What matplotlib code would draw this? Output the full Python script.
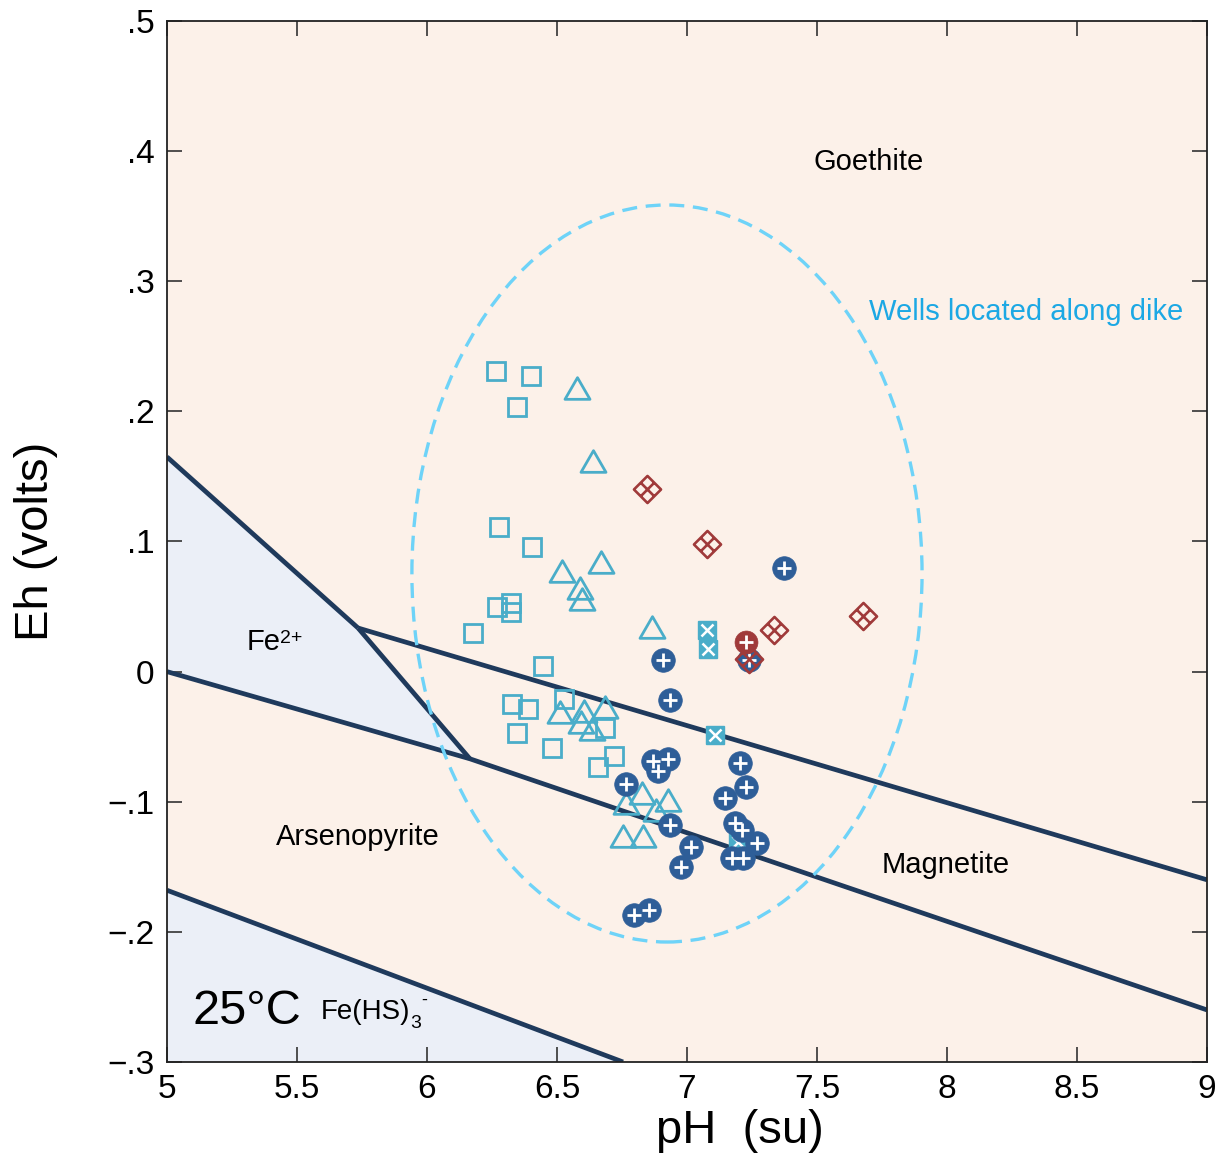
import numpy as np
import matplotlib
matplotlib.use("Agg")
import matplotlib.pyplot as plt
from matplotlib.path import Path
from matplotlib.patches import Ellipse, Polygon

plt.rcParams["font.family"] = ["Liberation Sans", "DejaVu Sans"]
plt.rcParams["mathtext.fontset"] = "custom"
plt.rcParams["mathtext.rm"] = "Liberation Sans"
plt.rcParams["mathtext.it"] = "Liberation Sans:italic"

# ---- stability-field boundaries (pH, Eh in volts) ----
goethite_magnetite_ph = [5.735, 9.0]
goethite_magnetite_eh = [0.0335, -0.160]
fe2_goethite_ph = [5.0, 5.735]
fe2_goethite_eh = [0.165, 0.0335]
fe2_magnetite_ph = [5.735, 6.165]
fe2_magnetite_eh = [0.0335, -0.067]
arsenopyrite_top_ph = [5.0, 6.165, 9.0]
arsenopyrite_top_eh = [0.0, -0.067, -0.260]
fehs_ph = [5.0, 6.754]
fehs_eh = [-0.168, -0.300]

# ---- well samples ----
square_ph = [6.265, 6.400, 6.346, 6.277, 6.404, 6.269, 6.323, 6.323, 6.177,
             6.446, 6.527, 6.327, 6.388, 6.346, 6.481, 6.685, 6.719, 6.658]
square_eh = [0.231, 0.227, 0.203, 0.111, 0.096, 0.050, 0.053, 0.046, 0.030,
             0.004, -0.021, -0.025, -0.029, -0.047, -0.059, -0.043, -0.065, -0.073]

triangle_ph = [6.577, 6.638, 6.519, 6.669, 6.588, 6.596, 6.865, 6.512, 6.604,
               6.685, 6.592, 6.635, 6.827, 6.765, 6.927, 6.881, 6.754, 6.831]
triangle_eh = [0.218, 0.162, 0.077, 0.084, 0.064, 0.056, 0.034, -0.031, -0.030,
               -0.027, -0.039, -0.044, -0.093, -0.101, -0.099, -0.106, -0.126, -0.126]

xsquare_ph = [7.077, 7.081, 7.108, 7.196]
xsquare_eh = [0.032, 0.017, -0.049, -0.131]

blue_ph = [7.373, 6.908, 6.935, 6.869, 6.927, 6.888, 6.765, 6.935, 7.015, 6.977,
           6.796, 6.854, 7.204, 7.227, 7.146, 7.185, 7.212, 7.269, 7.173, 7.215, 7.238]
blue_eh = [0.080, 0.009, -0.022, -0.069, -0.067, -0.076, -0.086, -0.118, -0.135, -0.150,
           -0.187, -0.183, -0.070, -0.089, -0.097, -0.116, -0.122, -0.132, -0.143, -0.143, 0.009]

diamond_ph = [6.846, 7.077, 7.335, 7.677, 7.238]
diamond_eh = [0.140, 0.098, 0.032, 0.043, 0.010]

red_ph = [7.227]
red_eh = [0.023]

# dike wells envelope: centre (pH, Eh), width, height
dike_center = (6.923, 0.0754)
dike_width = 1.962
dike_height = 0.5664

x_ticks = [5, 5.5, 6, 6.5, 7, 7.5, 8, 8.5, 9]
x_tick_labels = ["5", "5.5", "6", "6.5", "7", "7.5", "8", "8.5", "9"]
y_ticks = [0.5, 0.4, 0.3, 0.2, 0.1, 0.0, -0.1, -0.2, -0.3]
y_tick_labels = [".5", ".4", ".3", ".2", ".1", "0", "\u2212.1", "\u2212.2", "\u2212.3"]

# ---- colours ----
bg_peach = "#FCF1E9"
field_blue = "#EBEFF7"
line_navy = "#1F3A5C"
cyan = "#4AADC9"
dark_red = "#A03A3A"
blue = "#2E5E98"
envelope = "#6ED3F8"
wells_text = "#1CA8E4"

fig = plt.figure(figsize=(12.17, 11.59), dpi=100)
ax = fig.add_axes([0.1372, 0.0837, 0.8546, 0.8982])
ax.set_xlim(5, 9)
ax.set_ylim(-0.3, 0.5)
ax.set_facecolor(bg_peach)

# aqueous fields
fe2_poly = list(zip(fe2_goethite_ph, fe2_goethite_eh)) + \
    [(fe2_magnetite_ph[1], fe2_magnetite_eh[1]), (arsenopyrite_top_ph[0], arsenopyrite_top_eh[0])]
ax.add_patch(Polygon(fe2_poly, closed=True, facecolor=field_blue, edgecolor="none", zorder=1))
fehs_poly = list(zip(fehs_ph, fehs_eh)) + [(5.0, -0.300)]
ax.add_patch(Polygon(fehs_poly, closed=True, facecolor=field_blue, edgecolor="none", zorder=1))

# boundaries
for xs, ys in [(goethite_magnetite_ph, goethite_magnetite_eh),
               (fe2_goethite_ph, fe2_goethite_eh),
               (fe2_magnetite_ph, fe2_magnetite_eh),
               (arsenopyrite_top_ph, arsenopyrite_top_eh),
               (fehs_ph, fehs_eh)]:
    ax.plot(xs, ys, color=line_navy, lw=3.4, solid_capstyle="butt", zorder=2)

# dike envelope
ax.add_patch(Ellipse(dike_center, dike_width, dike_height, fill=False,
                     edgecolor=envelope, lw=2.4, ls=(0, (4.5, 2.6)), zorder=2))

# marker shapes
tri_path = Path([(-0.5, -0.433), (0.0, 0.433), (0.5, -0.433), (-0.5, -0.433)],
                [Path.MOVETO, Path.LINETO, Path.LINETO, Path.CLOSEPOLY])
grid_diamond = Path(
    [(0, 1), (1, 0), (0, -1), (-1, 0), (0, 1),
     (-0.5, 0.5), (0.5, -0.5), (0.5, 0.5), (-0.5, -0.5)],
    [Path.MOVETO, Path.LINETO, Path.LINETO, Path.LINETO, Path.CLOSEPOLY,
     Path.MOVETO, Path.LINETO, Path.MOVETO, Path.LINETO])

ax.plot(square_ph, square_eh, ls="none", marker="s", ms=13.5, mfc="none",
        mec=cyan, mew=2.0, zorder=3)
ax.plot(triangle_ph, triangle_eh, ls="none", marker=tri_path, ms=18, mfc="none",
        mec=cyan, mew=2.0, zorder=3)
ax.plot(xsquare_ph, xsquare_eh, ls="none", marker="s", ms=13.5, mfc=cyan,
        mec=cyan, mew=1.0, zorder=4)
ax.plot(xsquare_ph, xsquare_eh, ls="none", marker="x", ms=8, mec="white",
        mew=1.8, zorder=4)
ax.plot(blue_ph, blue_eh, ls="none", marker="o", ms=17, mfc=blue,
        mec=blue, mew=0.5, zorder=5)
ax.plot(blue_ph, blue_eh, ls="none", marker="+", ms=10.5, mec="white",
        mew=2.0, zorder=5)
ax.plot(diamond_ph, diamond_eh, ls="none", marker=grid_diamond, ms=19.5,
        mfc="none", mec=dark_red, mew=1.9, zorder=6)
ax.plot(red_ph, red_eh, ls="none", marker="o", ms=16.5, mfc=dark_red,
        mec=dark_red, mew=0.5, zorder=7)
ax.plot(red_ph, red_eh, ls="none", marker="+", ms=10.5, mec="white",
        mew=2.0, zorder=7)

# field labels
ax.text(7.70, 0.392, "Goethite", fontsize=21, ha="center", va="center", zorder=8)
ax.text(8.304, 0.2765, "Wells located along dike", fontsize=21, color=wells_text,
        ha="center", va="center", zorder=8)
fe2 = ax.text(5.305, 0.0225, "Fe", fontsize=21, ha="left", va="center", zorder=8)
ax.annotate("2+", xy=(1.0, 0.62), xycoords=fe2, fontsize=14,
            ha="left", va="center", zorder=8)
ax.text(5.735, -0.127, "Arsenopyrite", fontsize=21, ha="center", va="center", zorder=8)
ax.text(7.996, -0.1486, "Magnetite", fontsize=21, ha="center", va="center", zorder=8)
ax.text(5.308, -0.261, "25\u00b0C", fontsize=35, ha="center", va="center", zorder=8)
fehs = ax.text(5.590, -0.2615, "Fe(HS)", fontsize=20, ha="left", va="center", zorder=8)
ax.annotate("3", xy=(1.0, 0.05), xycoords=fehs, fontsize=14,
            ha="left", va="center", zorder=8)
ax.annotate("-", xy=(1.0, 0.95), xycoords=fehs, xytext=(8, 0),
            textcoords="offset points", fontsize=13, ha="left", va="center", zorder=8)

# axes styling
ax.set_xticks(x_ticks)
ax.set_xticklabels(x_tick_labels)
ax.set_yticks(y_ticks)
ax.set_yticklabels(y_tick_labels)
ax.tick_params(direction="in", length=11, width=1.2, color="#333333",
               top=True, right=True, labelsize=24, pad=9)
for sp in ax.spines.values():
    sp.set_linewidth(1.3)
    sp.set_color("#222222")

ax.set_xlabel("pH  (su)", fontsize=34)
ax.xaxis.set_label_coords(0.551, -0.045)
ax.set_ylabel("Eh (volts)", fontsize=34)
ax.yaxis.set_label_coords(-0.105, 0.5)

fig.savefig("out.png", dpi=100)
